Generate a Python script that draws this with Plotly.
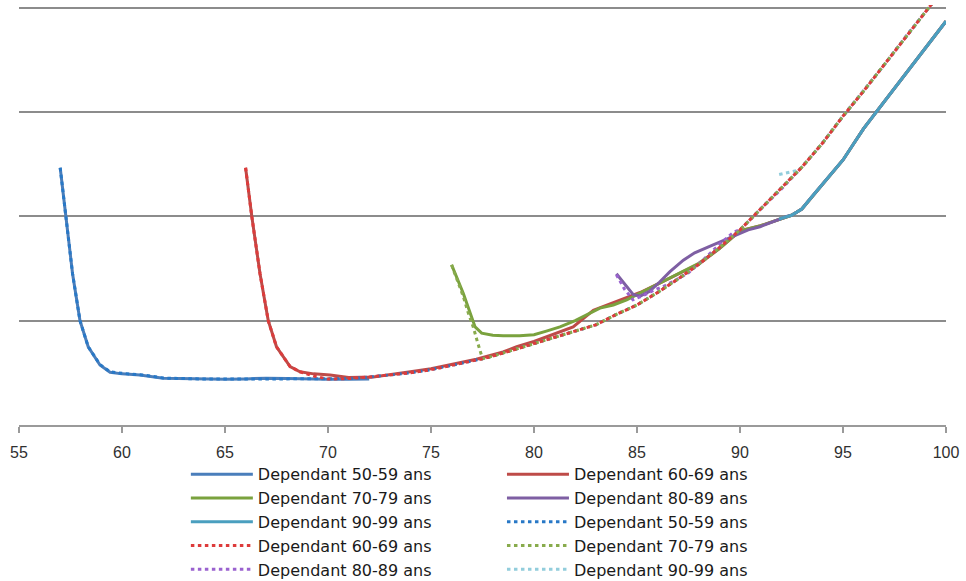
import plotly.graph_objects as go

# ---------------- data ----------------
names = ["Dependant 50-59 ans", "Dependant 60-69 ans", "Dependant 70-79 ans",
         "Dependant 80-89 ans", "Dependant 90-99 ans"]

x_ticks = [55, 60, 65, 70, 75, 80, 85, 90, 95, 100]

# shared observed tail of the solid curves (after convergence)
tail_x = [90, 91, 92, 92.5, 93, 93.5, 94, 94.5, 95, 95.5, 96, 96.5, 97, 97.5, 98, 98.5, 99, 99.5, 100]
tail_y = [1.86, 1.91, 1.98, 2.01, 2.07, 2.19, 2.31, 2.42, 2.54, 2.69, 2.84, 2.97, 3.1, 3.23, 3.36, 3.49, 3.61, 3.74, 3.87]

# shared modelled curve (dotted series after convergence)
model_x = [70, 71, 72, 73, 74, 75, 76, 77, 77.5, 78, 79, 80, 81, 82, 83, 84, 85, 86, 87, 88, 89,
           90, 91, 92, 93, 94, 95, 96, 97, 98, 99, 100]
model_y = [0.44, 0.445, 0.46, 0.48, 0.50, 0.53, 0.57, 0.61, 0.635, 0.66, 0.72, 0.78, 0.84, 0.90, 0.96,
           1.06, 1.15, 1.27, 1.40, 1.54, 1.70, 1.87, 2.07, 2.26, 2.47, 2.70, 2.96, 3.20, 3.45, 3.71, 3.96, 4.21]

# solid (observed) heads
s50_x = [57, 57.27, 57.6, 57.96, 58.36, 58.93, 59.42, 60.0, 60.87, 62.0, 63, 64, 65, 66, 67, 68, 69, 70, 71, 72]
s50_y = [2.465, 2.0, 1.45, 1.0, 0.75, 0.575, 0.505, 0.49, 0.48, 0.448, 0.445, 0.44, 0.438, 0.442, 0.448,
         0.445, 0.44, 0.438, 0.438, 0.44]

s60_x = [66, 66.3, 66.7, 67.1, 67.5, 68.16, 68.64, 69.3, 70.1, 71, 72.2, 73, 74, 75, 76, 77.2, 78.5,
         79.16, 80, 80.9, 81.9, 82.88, 83.85, 85.15, 86.1, 87, 88.06, 89]
s60_y = [2.465, 2.0, 1.45, 1.0, 0.75, 0.56, 0.51, 0.49, 0.48, 0.455, 0.46, 0.48, 0.51, 0.54, 0.58, 0.63,
         0.70, 0.75, 0.80, 0.865, 0.94, 1.10, 1.17, 1.27, 1.36, 1.45, 1.55, 1.69]

s70_x = [76, 76.57, 77.14, 77.46, 78, 78.5, 79.3, 80, 80.6, 81.26, 82, 82.56, 83.2, 83.85, 84.5, 85,
         86.1, 87, 88, 89]
s70_y = [1.535, 1.26, 0.94, 0.88, 0.86, 0.855, 0.855, 0.865, 0.9, 0.94, 1.0, 1.055, 1.12, 1.15, 1.2,
         1.25, 1.36, 1.45, 1.55, 1.69]

s80_x = [84, 84.4, 84.82, 85.15, 85.6, 86.1, 86.6, 87.25, 87.8, 88.5, 89.2, 89.8, 90.4, 90.97, 91.6, 92.3]
s80_y = [1.45, 1.35, 1.25, 1.235, 1.28, 1.37, 1.47, 1.58, 1.65, 1.71, 1.77, 1.82, 1.87, 1.90, 1.95, 2.0]

s90_x = [91.9]
s90_y = [1.97]

# dotted (modelled) heads
d50_x = [57, 57.27, 57.6, 57.96, 58.36, 58.93, 59.42, 60.0, 61, 62, 64, 66, 68]
d50_y = [2.465, 2.0, 1.45, 1.0, 0.75, 0.58, 0.51, 0.495, 0.48, 0.45, 0.44, 0.44, 0.44]

d60_x = [66, 66.3, 66.7, 67.1, 67.5, 68.16, 68.64, 69.3]
d60_y = [2.465, 2.0, 1.45, 1.0, 0.75, 0.56, 0.51, 0.47]

d70_x = [76, 76.3, 76.57, 76.8, 77.05, 77.25, 77.46]
d70_y = [1.535, 1.38, 1.23, 1.08, 0.94, 0.8, 0.65]

d80_x = [84, 84.4, 84.8, 85.3, 85.8, 86.3, 86.8, 87.5, 88.2, 89, 89.7]
d80_y = [1.44, 1.3, 1.2, 1.24, 1.29, 1.33, 1.38, 1.46, 1.58, 1.73, 1.85]

d90_x = [91.9, 92.4, 92.8]
d90_y = [2.40, 2.42, 2.44]

solid_colors = ["#4A7EBB", "#BE4B48", "#7AA23E", "#7E5FA3", "#4A9FBF"]
dot_colors = ["#2878C6", "#DD3B3B", "#88AB4C", "#9A62CF", "#92CDDC"]


def join(hx, hy, tx, ty):
    last = hx[-1]
    xs = list(hx) + [a for a in tx if a > last]
    ys = list(hy) + [b for a, b in zip(tx, ty) if a > last]
    return xs, ys


solid_heads = [(s50_x, s50_y, False), (s60_x, s60_y, True), (s70_x, s70_y, True),
               (s80_x, s80_y, True), (s90_x, s90_y, True)]
dot_heads = [(d50_x, d50_y), (d60_x, d60_y), (d70_x, d70_y), (d80_x, d80_y), (d90_x, d90_y)]

# legend column assignment (row-major, 2 columns): solids 0-4, dotted 5-9
legend_of = ["legend", "legend2", "legend", "legend2", "legend",
             "legend2", "legend", "legend2", "legend", "legend2"]

fig = go.Figure()
for i, (hx, hy, with_tail) in enumerate(solid_heads):
    xs, ys = join(hx, hy, tail_x, tail_y) if with_tail else (hx, hy)
    fig.add_trace(go.Scatter(x=xs, y=ys, mode="lines", name=names[i],
                             line=dict(color=solid_colors[i], width=3),
                             legend=legend_of[i], legendrank=100 + i))
# dotted drawn with the 60-69 model on top (legend order kept by legendrank)
for i in [0, 3, 4, 2, 1]:
    hx, hy = dot_heads[i]
    xs, ys = join(hx, hy, model_x, model_y)
    fig.add_trace(go.Scatter(x=xs, y=ys, mode="lines", name=names[i],
                             line=dict(color=dot_colors[i], width=3, dash="3.5px,3.5px"),
                             legend=legend_of[5 + i], legendrank=105 + i))

leg_common = dict(yanchor="top", xanchor="left", bgcolor="rgba(0,0,0,0)",
                  yref="container", y=0.213,
                  font=dict(family="DejaVu Sans", size=16, color="#1A1A1A"),
                  tracegroupgap=0, itemwidth=62, traceorder="normal")

fig.update_layout(
    width=966, height=581,
    margin=dict(l=19, r=20, t=5, b=156),
    paper_bgcolor="white", plot_bgcolor="white",
    showlegend=True,
    legend=dict(x=0.180, **leg_common),
    legend2=dict(x=0.521, **leg_common),
    xaxis=dict(range=[55, 100], tickvals=x_ticks, ticktext=[str(v) for v in x_ticks],
               automargin=False,
               showgrid=False, zeroline=False, showline=True, linecolor="#9A9A9A", linewidth=2,
               ticks="outside", ticklen=6, tickwidth=2, tickcolor="#9A9A9A",
               ticklabelstandoff=6,
               tickfont=dict(family="Liberation Sans", size=16, color="#303030")),
    yaxis=dict(range=[0, 4.025], tickvals=[1, 2, 3, 4], showticklabels=False,
               automargin=False,
               showgrid=True, gridcolor="#8C8C8C", gridwidth=1.5, zeroline=False,
               showline=False, ticks=""),
)

fig.write_html("out.html")
